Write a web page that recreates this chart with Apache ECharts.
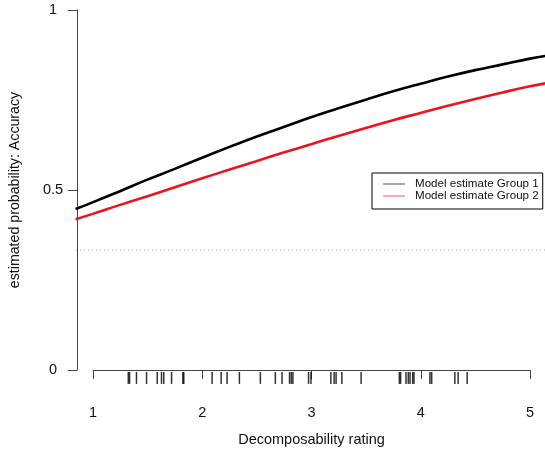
<!DOCTYPE html>
<html>
<head>
<meta charset="utf-8">
<script src="https://cdn.jsdelivr.net/npm/echarts@6/dist/echarts.min.js"></script>
<style>
  html, body { margin: 0; padding: 0; background: #fff; }
  #chart { width: 545px; height: 459px; }
</style>
</head>
<body>
<div id="chart"></div>
<script>
const ratingGrid = [0.85, 1, 1.25, 1.5, 1.75, 2, 2.25, 2.5, 2.75, 3, 3.25, 3.5, 3.75, 4, 4.25, 4.5, 4.75, 5, 5.15]
const group1Prob = [0.447, 0.465, 0.496, 0.528, 0.558, 0.589, 0.619, 0.648, 0.675, 0.702, 0.727, 0.751, 0.774, 0.795, 0.815, 0.833, 0.849, 0.865, 0.873]
const group2Prob = [0.419, 0.433, 0.458, 0.482, 0.507, 0.532, 0.556, 0.580, 0.604, 0.627, 0.650, 0.672, 0.694, 0.714, 0.734, 0.753, 0.771, 0.788, 0.797]
// observed ratings (rug)
const rugRatings = [1.323, 1.335, 1.398, 1.490, 1.588, 1.627, 1.648, 1.719, 1.822, 1.831,
  2.090, 2.173, 2.227, 2.340, 2.532, 2.669, 2.730, 2.799, 2.815, 2.830, 2.973, 2.995,
  3.177, 3.207, 3.225, 3.278, 3.454, 3.804, 3.816, 3.865, 3.886, 3.902, 3.926, 3.938,
  4.084, 4.100, 4.312, 4.342, 4.425]
const chanceLevel = 1 / 3
const seriesNames = ['Model estimate Group 1', 'Model estimate Group 2']

const chart = echarts.init(document.getElementById('chart'))
const font = 'Liberation Sans, Arial, Helvetica, sans-serif'

// grid 0 holds the drawn axes (1..5, 0..1); grid 1 is the full plot region
// (R pads the x range), used for the curves that run past the axis ends
const option = {
  animation: false,
  textStyle: { fontFamily: font },
  grid: [
    { left: 92, right: 15, top: 10, bottom: 89 },
    { left: 76, right: 0, top: 10, bottom: 89 }
  ],
  legend: {
    data: seriesNames,
    orient: 'vertical',
    left: 372,
    top: 173,
    padding: [5, 4, 7, 11],
    itemGap: 0,
    itemWidth: 22,
    itemHeight: 10.5,
    borderColor: '#000',
    borderWidth: 1,
    borderRadius: 0,
    icon: 'path://M0,5 L22,5 L22,6 L0,6 Z',
    textStyle: { fontSize: 11.6, lineHeight: 10.5, color: '#111', padding: [0, 0, 0, 5] }
  },
  xAxis: [
    {
      type: 'value',
      gridIndex: 0,
      min: 1,
      max: 5,
      interval: 1,
      offset: 14,
      name: 'Decomposability rating',
      nameLocation: 'middle',
      nameGap: 48,
      nameTextStyle: { fontSize: 14.5, color: '#111' },
      axisLine: { show: true, lineStyle: { color: '#444', width: 1 } },
      axisTick: { show: true, length: 9, lineStyle: { color: '#444' } },
      axisLabel: { fontSize: 14.5, color: '#111', margin: 21 },
      splitLine: { show: false }
    },
    {
      type: 'value',
      gridIndex: 1,
      min: 0.854,
      max: 5.137,
      show: false
    }
  ],
  yAxis: [
    {
      type: 'value',
      gridIndex: 0,
      min: 0,
      max: 1,
      interval: 0.5,
      offset: 16,
      name: 'estimated probability: Accuracy',
      nameLocation: 'middle',
      nameGap: 55,
      nameTextStyle: { fontSize: 14.2, color: '#111' },
      axisLine: { show: true, lineStyle: { color: '#444', width: 1 } },
      axisTick: { show: true, length: 9, lineStyle: { color: '#444' } },
      axisLabel: { fontSize: 14.5, color: '#111', margin: 24, align: 'center' },
      splitLine: { show: false }
    },
    {
      type: 'value',
      gridIndex: 1,
      min: 0,
      max: 1,
      show: false
    }
  ],
  series: [
    {
      name: 'chance',
      type: 'line',
      xAxisIndex: 1,
      yAxisIndex: 1,
      symbol: 'none',
      silent: true,
      data: [[0.854, chanceLevel], [5.137, chanceLevel]],
      lineStyle: { color: '#aaa', width: 1, type: [1, 3] }
    },
    {
      name: seriesNames[0],
      type: 'line',
      xAxisIndex: 1,
      yAxisIndex: 1,
      clip: true,
      symbol: 'none',
      smooth: true,
      data: ratingGrid.map((x, i) => [x, group1Prob[i]]),
      color: '#555',
      lineStyle: { color: '#000', width: 2.6 }
    },
    {
      name: seriesNames[1],
      type: 'line',
      xAxisIndex: 1,
      yAxisIndex: 1,
      clip: true,
      symbol: 'none',
      smooth: true,
      data: ratingGrid.map((x, i) => [x, group2Prob[i]]),
      color: '#ec5a5e',
      lineStyle: { color: '#e8161c', width: 2.6 }
    },
    {
      name: 'rug',
      type: 'scatter',
      clip: false,
      silent: true,
      symbol: 'rect',
      symbolSize: [1.5, 12],
      itemStyle: { color: '#000' },
      data: rugRatings.map(r => [r, -0.022])
    }
  ]
}

chart.setOption(option)
</script>
</body>
</html>
